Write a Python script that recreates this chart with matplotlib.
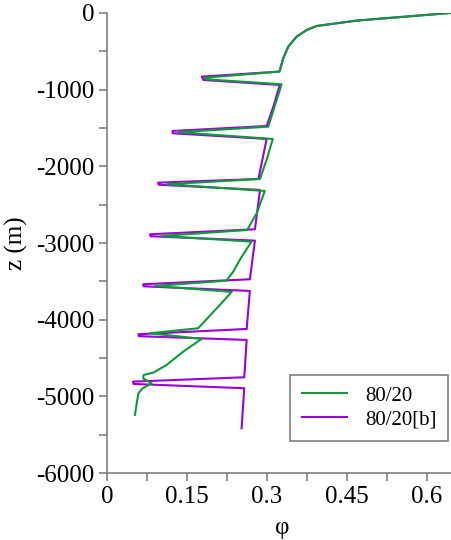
import matplotlib
matplotlib.use("Agg")
import matplotlib.pyplot as plt
from matplotlib.ticker import MultipleLocator

plt.rcParams['font.family'] = ['Liberation Serif', 'DejaVu Serif']
plt.rcParams['axes.unicode_minus'] = False

# porosity profile, case 80/20
phi_a = [0.645, 0.520, 0.468, 0.393, 0.3745, 0.3556, 0.340, 0.3306, 0.3244, 0.323,
         0.183, 0.186, 0.3275, 0.3025,
         0.134, 0.311, 0.300, 0.287,
         0.112, 0.296, 0.281, 0.263,
         0.1025, 0.271, 0.249, 0.237, 0.224,
         0.090, 0.234, 0.206, 0.171,
         0.081, 0.1775, 0.143, 0.112, 0.087, 0.069, 0.068,
         0.084, 0.067, 0.059, 0.0525]
z_a = [0, -70, -100, -170, -222, -309, -439, -591, -743, -765,
       -845, -865, -930, -1483,
       -1556, -1643, -1900, -2165,
       -2234, -2321, -2610, -2830,
       -2908, -2982, -3221, -3373, -3491,
       -3560, -3638, -3851, -4112,
       -4177, -4251, -4417, -4590, -4690, -4721, -4765,
       -4830, -4895, -4960, -5242]

# porosity profile, case 80/20[b]
phi_b = [0.645, 0.520, 0.468, 0.393, 0.3745, 0.3556, 0.340, 0.3306, 0.3244, 0.323,
         0.178, 0.181, 0.324, 0.312, 0.2995,
         0.123, 0.1235, 0.2995, 0.284,
         0.096, 0.097, 0.287, 0.2775,
         0.081, 0.082, 0.2775, 0.268,
         0.068, 0.069, 0.268, 0.262,
         0.059, 0.060, 0.262, 0.2575,
         0.049, 0.050, 0.2575, 0.2525]
z_b = [0, -70, -100, -170, -222, -309, -439, -591, -743, -765,
       -830, -874, -939, -1222, -1474,
       -1539, -1569, -1643, -2165,
       -2213, -2240, -2308, -2821,
       -2886, -2912, -2969, -3473,
       -3538, -3565, -3625, -4121,
       -4190, -4215, -4264, -4751,
       -4808, -4838, -4894, -5416]

fig = plt.figure(figsize=(4.51, 5.4), dpi=100)
ax = fig.add_axes([0.237, 0.124, 0.763, 0.852])

ax.plot(phi_b, z_b, color='#9b00d9', lw=1.5, label='80/20[b]', zorder=2)
ax.plot(phi_a, z_a, color='#0f9a3a', lw=1.5, label='80/20', zorder=3)

ax.set_xlim(0, 0.645)
ax.set_ylim(-6000, 0)
ax.xaxis.set_minor_locator(MultipleLocator(0.075))
ax.yaxis.set_major_locator(MultipleLocator(1000))
ax.yaxis.set_minor_locator(MultipleLocator(500))
ax.set_xticks([0, 0.15, 0.3, 0.45, 0.6])
ax.set_xticklabels(['0', '0.15', '0.3', '0.45', '0.6'])

for s in ['top', 'right']:
    ax.spines[s].set_visible(False)
for s in ['left', 'bottom']:
    ax.spines[s].set_color('#808080')
    ax.spines[s].set_linewidth(1.2)
ax.tick_params(which='both', direction='out', length=6, width=1.2,
               color='#808080', labelsize=18, pad=3)

ax.set_ylabel('z (m)', fontsize=18, va='center')
ax.yaxis.set_label_coords(-0.262, 0.5)
ax.set_xlabel('φ', fontsize=18, va='center')
ax.xaxis.set_label_coords(0.51, -0.12)

h, l = ax.get_legend_handles_labels()
leg = ax.legend(h[::-1], l[::-1], loc='lower right', bbox_to_anchor=(0.991, 0.07),
                borderaxespad=0, fontsize=15, fancybox=False, framealpha=1,
                edgecolor='#808080', handlelength=2.2, handletextpad=0.85,
                borderpad=0.55, labelspacing=0.2)
leg.get_frame().set_linewidth(1.2)

fig.savefig('out.png', dpi=100)
